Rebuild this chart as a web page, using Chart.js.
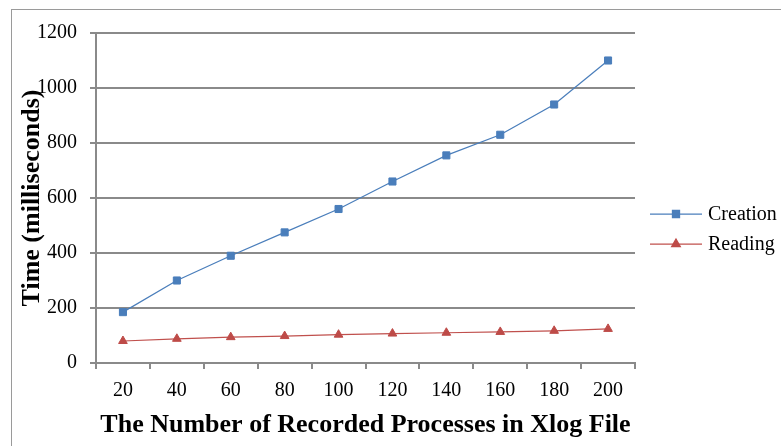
<!DOCTYPE html>
<html>
<head>
<meta charset="utf-8">
<script src="https://cdn.jsdelivr.net/npm/chart.js@4/dist/chart.umd.min.js"></script>
<style>
  html, body { margin: 0; padding: 0; background: #ffffff; }
  #wrap { width: 781px; height: 446px; position: relative; }
</style>
</head>
<body>
<div id="wrap"><canvas id="chart" width="781" height="446"></canvas></div>
<script>
// Number of recorded processes in the Xlog file
const processCounts = ['20', '40', '60', '80', '100', '120', '140', '160', '180', '200'];
// Time in milliseconds
const creationTimes = [185, 300, 390, 475, 560, 660, 755, 830, 940, 1100];
const readingTimes  = [80, 88, 94, 98, 103, 107, 110, 113, 117, 124];
// Y axis range
const yTicks = { min: 0, max: 1200, step: 200 };

const SERIF = "'Liberation Serif', 'Times New Roman', serif";
const GRID = '#8a8a8a';

// Outer frame around the whole chart
const framePlugin = {
  id: 'frame',
  beforeDraw(chart) {
    const ctx = chart.ctx;
    ctx.save();
    ctx.fillStyle = '#ffffff';
    ctx.fillRect(0, 0, chart.width, chart.height);
    ctx.strokeStyle = '#9a9a9a';
    ctx.lineWidth = 1;
    ctx.strokeRect(11.5, 9.5, chart.width + 20, chart.height + 20);
    ctx.restore();
  }
};

// Legend on the right: short line with the series marker, then the label
const sideLegend = {
  id: 'sideLegend',
  afterDraw(chart) {
    const ctx = chart.ctx;
    const area = chart.chartArea;
    const x0 = area.right + 15, x1 = area.right + 67, tx = area.right + 73;
    const yStart = 214, gap = 30;
    ctx.save();
    chart.data.datasets.forEach((ds, i) => {
      const y = yStart + i * gap;
      ctx.strokeStyle = ds.borderColor;
      ctx.lineWidth = ds.borderWidth;
      ctx.beginPath();
      ctx.moveTo(x0, y);
      ctx.lineTo(x1, y);
      ctx.stroke();
      ctx.fillStyle = ds.pointBackgroundColor;
      ctx.strokeStyle = ds.pointBorderColor;
      Chart.helpers.drawPoint(ctx, {
        pointStyle: ds.pointStyle,
        radius: ds.pointRadius,
        borderWidth: 1,
        rotation: 0
      }, (x0 + x1) / 2, y);
      ctx.fillStyle = '#000000';
      ctx.font = '20px ' + SERIF;
      ctx.textAlign = 'left';
      ctx.textBaseline = 'middle';
      ctx.fillText(ds.label, tx, y + 1);
    });
    ctx.restore();
  }
};

new Chart(document.getElementById('chart'), {
  type: 'line',
  data: {
    labels: processCounts,
    datasets: [
      {
        label: 'Creation',
        data: creationTimes,
        borderColor: '#4a7ebb',
        borderWidth: 1.25,
        pointStyle: 'rect',
        pointRadius: 5,
        pointBackgroundColor: '#4a7ebb',
        pointBorderColor: '#4a7ebb',
        pointBorderWidth: 1,
        tension: 0
      },
      {
        label: 'Reading',
        data: readingTimes,
        borderColor: '#c0504d',
        borderWidth: 1.25,
        pointStyle: 'triangle',
        pointRadius: 5,
        pointBackgroundColor: '#be4b48',
        pointBorderColor: '#be4b48',
        pointBorderWidth: 1,
        tension: 0
      }
    ]
  },
  options: {
    responsive: false,
    animation: false,
    layout: { padding: { left: 0, top: 33, right: 146, bottom: 0 } },
    plugins: {
      legend: { display: false },
      tooltip: { enabled: false }
    },
    scales: {
      x: {
        type: 'category',
        offset: true,
        afterFit(scale) { scale.height = 83; },
        grid: {
          offset: true,
          drawOnChartArea: false,
          drawTicks: true,
          tickLength: 6,
          color: GRID,
          lineWidth: 2
        },
        border: { display: true, color: GRID, width: 2 },
        ticks: {
          color: '#000000',
          font: { family: SERIF, size: 20 },
          padding: 10,
          maxRotation: 0,
          autoSkip: false
        },
        title: {
          display: true,
          text: 'The Number of Recorded Processes in Xlog File',
          color: '#000000',
          font: { family: SERIF, size: 26, weight: 'bold' },
          padding: { top: 0, bottom: 5 }
        }
      },
      y: {
        min: yTicks.min,
        max: yTicks.max,
        afterFit(scale) { scale.width = 96; },
        grid: {
          drawTicks: true,
          tickLength: 6,
          color: GRID,
          lineWidth: 2
        },
        border: { display: true, color: GRID, width: 2 },
        ticks: {
          stepSize: yTicks.step,
          color: '#000000',
          font: { family: SERIF, size: 20 },
          padding: 13,
          callback: (value) => String(value)
        },
        title: {
          display: true,
          text: 'Time (milliseconds)',
          color: '#000000',
          font: { family: SERIF, size: 26, weight: 'bold' },
          padding: { top: 17, bottom: 0 }
        }
      }
    }
  },
  plugins: [framePlugin, sideLegend]
});
</script>
</body>
</html>
